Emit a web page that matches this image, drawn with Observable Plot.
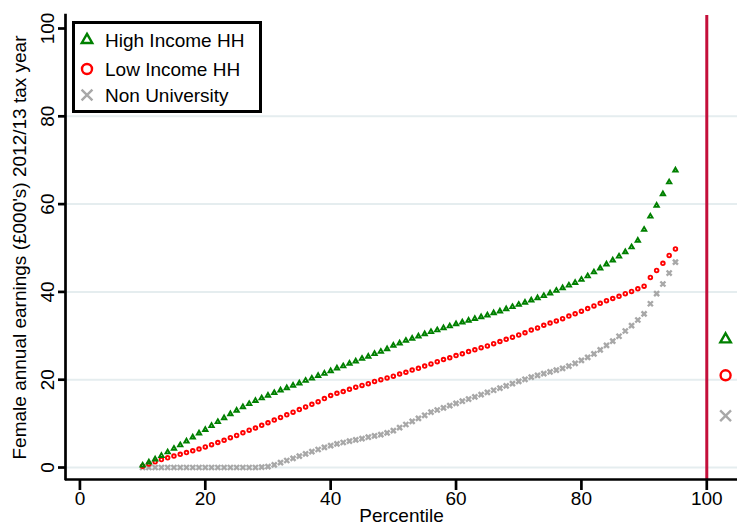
<!DOCTYPE html>
<html><head><meta charset="utf-8">
<script src="https://cdn.jsdelivr.net/npm/d3@7"></script>
<script src="https://cdn.jsdelivr.net/npm/@observablehq/plot@0.6"></script>
<style>
html,body{margin:0;padding:0;background:#fff;}
#wrap{position:relative;width:737px;height:525px;overflow:hidden;font-family:"Liberation Sans",Arial,sans-serif;}
#legend{position:absolute;left:72px;top:21px;}
</style></head><body><div id="wrap"></div>
<script>
const percentiles = [10,11,12,13,14,15,16,17,18,19,20,21,22,23,24,25,26,27,28,29,30,31,32,33,34,35,36,37,38,39,40,41,42,43,44,45,46,47,48,49,50,51,52,53,54,55,56,57,58,59,60,61,62,63,64,65,66,67,68,69,70,71,72,73,74,75,76,77,78,79,80,81,82,83,84,85,86,87,88,89,90,91,92,93,94,95];
const highIncome = [0.5,1.2,1.9,2.7,3.5,4.3,5.1,6.0,6.9,7.8,8.6,9.5,10.4,11.3,12.2,13.0,13.8,14.5,15.2,15.8,16.4,17.0,17.6,18.1,18.7,19.2,19.8,20.3,20.9,21.4,22.0,22.6,23.1,23.7,24.2,24.8,25.3,25.9,26.4,27.0,27.8,28.3,28.9,29.4,29.9,30.4,30.9,31.3,31.8,32.2,32.7,33.1,33.5,33.9,34.3,34.7,35.2,35.6,36.1,36.6,37.1,37.6,38.1,38.6,39.1,39.7,40.3,40.9,41.5,42.1,42.8,43.6,44.5,45.4,46.3,47.2,48.1,49.1,50.2,51.7,54.2,57.2,59.7,62.3,65.0,67.7];
const lowIncome = [0.3,0.8,1.3,1.8,2.2,2.6,3.0,3.4,3.8,4.2,4.7,5.2,5.7,6.2,6.8,7.3,7.9,8.5,9.0,9.6,10.2,10.8,11.4,12.0,12.6,13.2,13.8,14.4,15.0,15.7,16.4,16.9,17.3,17.8,18.3,18.7,19.1,19.6,20.0,20.4,20.8,21.3,21.7,22.2,22.6,23.1,23.6,24.1,24.6,25.0,25.5,25.9,26.4,26.8,27.3,27.7,28.2,28.7,29.2,29.7,30.2,30.7,31.3,31.8,32.4,32.9,33.4,33.9,34.5,35.0,35.6,36.2,36.8,37.4,38.0,38.5,39.0,39.6,40.1,40.7,41.3,43.3,44.9,46.5,48.3,49.8];
const nonUniversity = [0.0,0.0,0.0,0.0,0.0,0.0,0.0,0.0,0.0,0.0,0.0,0.0,0.0,0.0,0.0,0.0,0.0,0.0,0.0,0.1,0.2,0.6,1.1,1.6,2.1,2.6,3.1,3.6,4.1,4.6,5.0,5.4,5.7,6.0,6.3,6.6,6.9,7.2,7.5,7.9,8.4,9.1,9.8,10.5,11.2,11.9,12.6,13.1,13.6,14.1,14.6,15.1,15.6,16.1,16.6,17.1,17.6,18.1,18.6,19.1,19.6,20.1,20.6,21.0,21.4,21.8,22.2,22.6,23.1,23.7,24.4,25.1,25.9,26.8,27.8,28.8,29.9,31.1,32.3,33.6,35.0,37.3,39.6,41.8,44.3,46.8];
const seriesNames = ["High Income HH", "Low Income HH", "Non University"];
const seriesColors = ["#008000", "#ff0000", "#a8a8a8"];
const seriesSymbols = ["triangle2", "circle", "times"];
const meanPosition = 103;
const meanValues = [29.2, 21.0, 11.8];
const xTicks = [0, 20, 40, 60, 80, 100];
const yTicks = [0, 20, 40, 60, 80, 100];
const gridTicks = [0, 20, 40, 60, 80];
const cutoff = [100];
const xTitle = "Percentile";
const yTitle = "Female annual earnings (£000's) 2012/13 tax year";

const xDomain = [-2.3, 104.9];
const yDomain = [-2.73, 102.96];

const seriesValues = [highIncome, lowIncome, nonUniversity];
const rows = [];
seriesValues.forEach((vals, s) => percentiles.forEach((p, i) => rows.push({p, v: vals[i], s})));
const means = meanValues.map((v, s) => ({p: meanPosition, v, s}));

const curveR = [2.1, 1.8, 2.4];
const curveW = [1.9, 1.9, 2.4];
const drawOrder = [2, 1, 0];

const curveMarks = drawOrder.map(s => Plot.dot(rows.filter(d => d.s === s), {
  x: "p", y: "v", symbol: () => seriesSymbols[s], r: curveR[s],
  stroke: seriesColors[s], strokeWidth: curveW[s], fill: "none"
}));
const meanMarks = [0, 1, 2].map(s => Plot.dot(means.filter(d => d.s === s), {
  x: "p", y: "v", symbol: () => seriesSymbols[s], r: 5,
  stroke: seriesColors[s], strokeWidth: 2.4, fill: "none"
}));

const chart = Plot.plot({
  width: 737, height: 525,
  marginLeft: 65, marginRight: 0, marginTop: 15, marginBottom: 46,
  x: {domain: xDomain},
  y: {domain: yDomain},
  symbol: {type: "identity"},
  style: {fontFamily: '"Liberation Sans", Arial, sans-serif', fontSize: "19px", color: "#000", background: "white", overflow: "visible"},
  marks: [
    Plot.ruleY(gridTicks, {stroke: "#e5edef", strokeWidth: 2}),
    Plot.ruleX(cutoff, {stroke: "#c40f3a", strokeWidth: 3}),
    ...curveMarks,
    ...meanMarks,
    Plot.axisX(xTicks, {tickSize: 11, tickPadding: 1, strokeWidth: 2.7, label: null}),
    Plot.axisY(yTicks, {tickSize: 7, tickPadding: 5, tickRotate: -90, strokeWidth: 2.7, label: null}),
    Plot.ruleX([xDomain[0]], {stroke: "#000", strokeWidth: 2.7, strokeLinecap: "square"}),
    Plot.ruleY([yDomain[0]], {stroke: "#000", strokeWidth: 2.7}),
    Plot.text([xTitle], {text: d => d, frameAnchor: "bottom", dy: 29, lineAnchor: "top", textAnchor: "middle", fontSize: 19}),
    Plot.text([yTitle], {text: d => d, frameAnchor: "left", rotate: -90, dx: -46, lineAnchor: "middle", textAnchor: "middle", fontSize: 19})
  ]
});
const wrap = document.getElementById("wrap");
wrap.appendChild(chart);

// legend inside the plot area
const lg = d3.select(wrap).append("svg").attr("id", "legend").attr("width", 190).attr("height", 92);
lg.append("rect").attr("x", 1.5).attr("y", 1.5).attr("width", 187).attr("height", 89)
  .attr("fill", "white").attr("stroke", "black").attr("stroke-width", 3);
const symMap = {triangle2: d3.symbolTriangle2, circle: d3.symbolCircle, times: d3.symbolTimes};
const rowY = [19, 48, 74];
seriesNames.forEach((name, i) => {
  lg.append("path").attr("d", d3.symbol(symMap[seriesSymbols[i]], Math.PI * 25)())
    .attr("transform", `translate(15,${rowY[i]})`)
    .attr("fill", "none").attr("stroke", seriesColors[i]).attr("stroke-width", 2.4);
  lg.append("text").attr("x", 33).attr("y", rowY[i] + 6.5).text(name)
    .attr("font-family", '"Liberation Sans", Arial, sans-serif').attr("font-size", 19).attr("fill", "#000");
});
</script></body></html>
